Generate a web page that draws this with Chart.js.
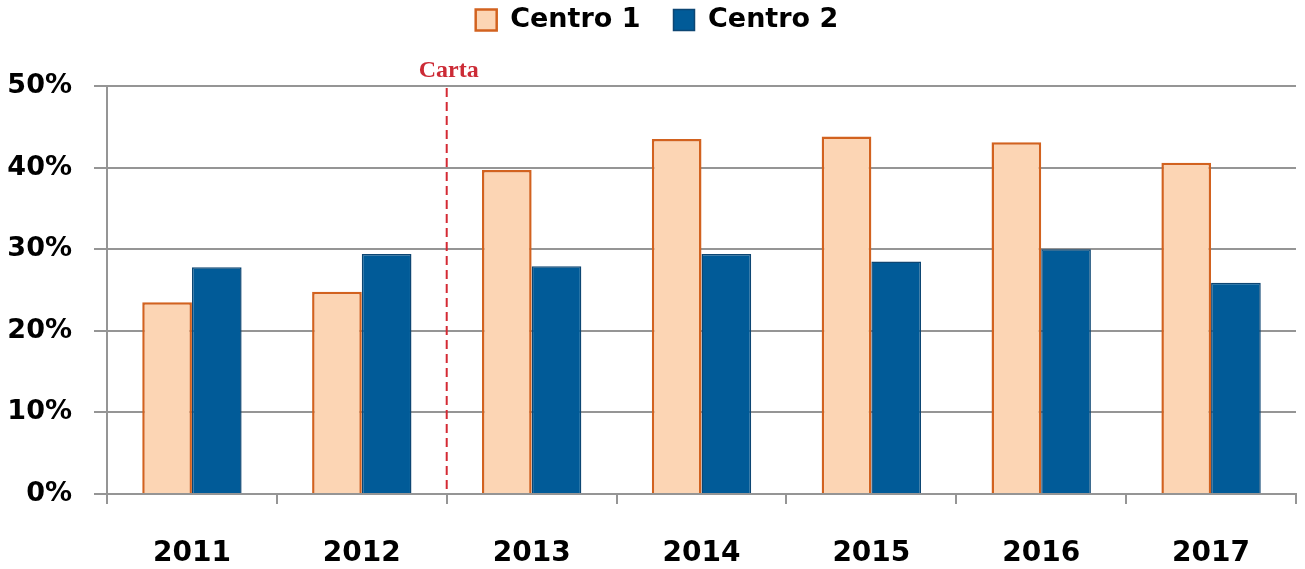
<!DOCTYPE html>
<html>
<head>
<meta charset="utf-8">
<script src="https://cdn.jsdelivr.net/npm/chart.js@4.4.1/dist/chart.umd.min.js"></script>
<style>
  html, body { margin: 0; padding: 0; background: #ffffff; }
  #wrap { width: 1305px; height: 569px; position: relative; }
</style>
</head>
<body>
<div id="wrap"><canvas id="c"></canvas></div>
<script>
// ---- data ----
const categories = ["2011", "2012", "2013", "2014", "2015", "2016", "2017"];
const centro1 = [23.5, 24.8, 39.7, 43.5, 43.8, 43.1, 40.6];
const centro2 = [27.8, 29.4, 27.9, 29.4, 28.5, 30.0, 25.9];
const seriesNames = ["Centro 1", "Centro 2"];
const yTicks = [0, 10, 20, 30, 40, 50];
const markerAfter = "2012";
const markerLabel = "Carta";

const gridColor = "#959595";
const fontFamily = "'DejaVu Sans', Verdana, sans-serif";

// nudge the legend block slightly right, as in the reference
const legendShift = {
  id: "legendShift",
  afterLayout(chart) {
    if (chart.legend) {
      chart.legend.left += 9;
      chart.legend.right += 9;
    }
  }
};

const markerPlugin = {
  id: "markerLine",
  afterDatasetsDraw(chart) {
    const x = chart.scales.x;
    const y = chart.scales.y;
    const idx = categories.indexOf(markerAfter) + 0.5;
    const px = x.getPixelForValue(idx);
    const ctx = chart.ctx;
    ctx.save();
    ctx.strokeStyle = "#d42a34";
    ctx.lineWidth = 2;
    ctx.setLineDash([9, 5]);
    ctx.beginPath();
    ctx.moveTo(px, y.getPixelForValue(yTicks[yTicks.length - 1]) + 2);
    ctx.lineTo(px, y.getPixelForValue(0));
    ctx.stroke();
    ctx.setLineDash([]);
    ctx.fillStyle = "#cc2b36";
    ctx.font = "bold 24px 'Liberation Serif', 'DejaVu Serif', serif";
    ctx.textAlign = "center";
    ctx.textBaseline = "alphabetic";
    ctx.fillText(markerLabel, px + 2, chart.chartArea.top - 9);
    ctx.restore();
  }
};

new Chart(document.getElementById("c"), {
  type: "bar",
  data: {
    labels: categories,
    datasets: [
      {
        label: seriesNames[0],
        data: centro1,
        backgroundColor: "#fcd5b4",
        borderColor: "#d2621f",
        borderWidth: 2.5,
        categoryPercentage: 0.585,
        barPercentage: 1.0
      },
      {
        label: seriesNames[1],
        data: centro2,
        backgroundColor: "#015b98",
        borderColor: "#0d4673",
        borderWidth: 1.5,
        categoryPercentage: 0.585,
        barPercentage: 1.0
      }
    ]
  },
  options: {
    responsive: true,
    maintainAspectRatio: false,
    animation: false,
    layout: { padding: { left: 0, right: 9, top: -26.5, bottom: 0 } },
    plugins: {
      legend: {
        display: true,
        position: "top",
        labels: {
          boxWidth: 21,
          boxHeight: 21,
          padding: 33,
          color: "#000000",
          font: { family: fontFamily, size: 27, weight: "bold" }
        }
      },
      subtitle: {
        display: true,
        text: "",
        position: "top",
        weight: 500,
        padding: { top: 0, bottom: 30.5 },
        font: { size: 10 }
      },
      tooltip: { enabled: false }
    },
    scales: {
      x: {
        grid: {
          display: true,
          drawOnChartArea: false,
          drawTicks: true,
          tickLength: 10,
          color: gridColor,
          lineWidth: 2
        },
        border: { display: true, color: gridColor, width: 2 },
        ticks: {
          color: "#000000",
          padding: 33,
          font: { family: fontFamily, size: 28, weight: "bold" }
        },
        afterFit(scale) { scale.height = 75; }
      },
      y: {
        min: 0,
        max: 50,
        afterBuildTicks(scale) { scale.ticks = yTicks.map(v => ({ value: v })); },
        grid: {
          display: true,
          drawOnChartArea: true,
          drawTicks: true,
          tickLength: 13,
          color: gridColor,
          lineWidth: 2
        },
        border: { display: true, color: gridColor, width: 2 },
        ticks: {
          color: "#000000",
          padding: 22,
          callback: v => v + "%",
          font: { family: fontFamily, size: 27, weight: "bold" }
        },
        afterFit(scale) { scale.width = 107; }
      }
    }
  },
  plugins: [markerPlugin, legendShift]
});
</script>
</body>
</html>
